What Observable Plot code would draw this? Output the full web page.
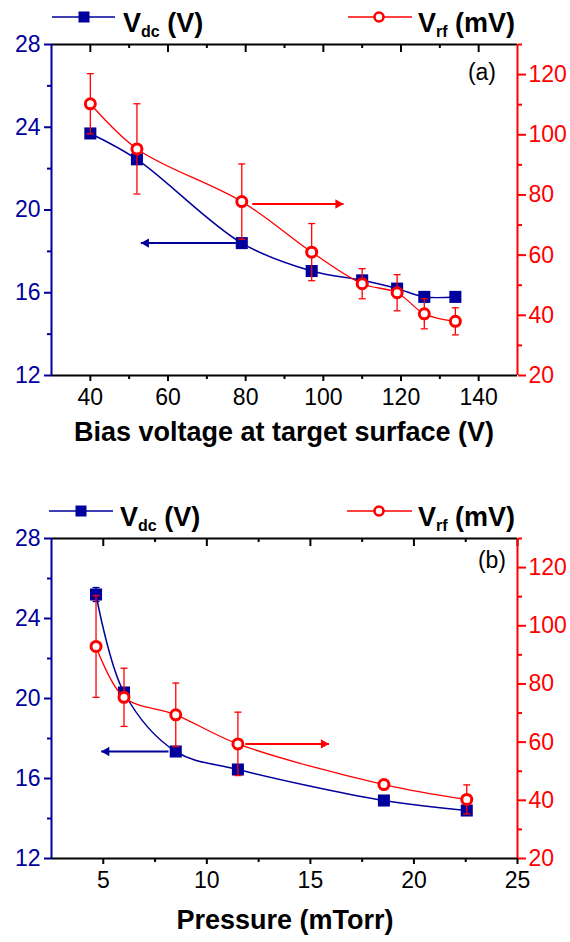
<!DOCTYPE html>
<html>
<head>
<meta charset="utf-8">
<script src="https://cdn.jsdelivr.net/npm/d3@7"></script>
<script src="https://cdn.jsdelivr.net/npm/@observablehq/plot@0.6"></script>
<style>
  html, body { margin: 0; padding: 0; background: #fff; }
  #page { position: relative; width: 570px; height: 942px; overflow: hidden;
          font-family: "Liberation Sans", Arial, sans-serif; }
  #page > svg { position: absolute; left: 0; }
</style>
</head>
<body>
<div id="page"></div>
<script>
const BLUE = "#00009c";
const RED = "#ff0000";

// (a) Vdc and Vrf versus bias voltage at the target surface
const biasVoltage = [40, 52, 79, 97, 110, 119, 126, 134];
const biasVdc = [23.7, 22.45, 18.4, 17.05, 16.6, 16.2, 15.8, 15.8];
const biasVrf = [110.3, 95.3, 77.8, 61.0, 50.5, 47.5, 40.5, 38.0];
const biasVrfErr = [10, 15, 12.5, 9.5, 5, 6, 5, 4.5];

// (b) Vdc and Vrf versus pressure
const pressure = [4.65, 6.0, 8.5, 11.5, 18.55, 22.55];
const pressVdc = [25.2, 20.3, 17.35, 16.45, 14.9, 14.4];
const pressVdcErr = [0.35, 0, 0, 0, 0, 0];
const pressVrf = [92.9, 75.4, 69.4, 59.4, 45.4, 40.3];
const pressVrfErr = [17.5, 10, 10.9, 10.9, 0, 5];

// axis ticks
const biasTicks = [40, 60, 80, 100, 120, 140];
const biasMinor = [50, 70, 90, 110, 130];
const pressTicks = [5, 10, 15, 20, 25];
const pressMinor = [7.5, 12.5, 17.5, 22.5];
const vdcTicks = [12, 16, 20, 24, 28];
const vdcMinor = [14, 18, 22, 26];
const vrfTicks = [20, 40, 60, 80, 100, 120];
const vrfMinor = [30, 50, 70, 90, 110, 130];

// arrows pointing each curve to its axis
const biasArrowDc = [{x1: 77.5, x2: 53, y: 18.4}];
const biasArrowRf = [{x1: 81.7, x2: 105.2, y: 77}];
const pressArrowDc = [{x1: 8.15, x2: 4.9, y: 17.35}];
const pressArrowRf = [{x1: 11.86, x2: 15.9, y: 59.4}];

const page = document.getElementById("page");

// horizontal error-bar cap
const capSymbol = {
  draw(ctx, size) {
    const r = Math.sqrt(size / Math.PI);
    ctx.moveTo(-r, 0);
    ctx.lineTo(r, 0);
  }
};

function panel({top, height, mTop, mBottom, xDomain, xs, dc, dcErr, rf, rfErr,
                xMajor, xMinor, arrowDc, arrowRf}) {
  const plotH = height - mTop - mBottom;
  const dcRows = xs.map((x, i) => ({x, v: dc[i], e: dcErr ? dcErr[i] : 0}));
  const rfRows = xs.map((x, i) => ({x, v: rf[i], e: rfErr[i]}));
  const dcErrRows = dcRows.filter(d => d.e > 0);
  const rfErrRows = rfRows.filter(d => d.e > 0);
  const common = {
    width: 570, height,
    marginTop: mTop, marginBottom: mBottom, marginLeft: 51, marginRight: 53,
    style: {background: "transparent", overflow: "visible",
            fontFamily: "Liberation Sans, Arial, sans-serif"}
  };

  // Vdc layer: frame, bottom/top/left axes, blue series
  const base = Plot.plot({
    ...common,
    x: {domain: xDomain},
    y: {domain: [12, 28]},
    marks: [
      Plot.ruleY([12, 28], {stroke: "#000", strokeWidth: 2}),
      Plot.ruleX([xDomain[0]], {stroke: BLUE, strokeWidth: 2}),
      Plot.tickX(xMajor, {x: d => d, stroke: "#000", strokeWidth: 2, insetBottom: plotH - 8}),
      Plot.tickX(xMinor, {x: d => d, stroke: "#000", strokeWidth: 2, insetBottom: plotH - 4}),
      Plot.axisX(xMajor, {tickSize: 6, tickPadding: 7, fontSize: 23, strokeWidth: 2, color: "#000", label: null}),
      Plot.axisX(xMinor, {tickSize: 4, tickFormat: () => "", strokeWidth: 2, color: "#000", label: null}),
      Plot.axisY(vdcTicks, {tickSize: 7, tickPadding: 4, fontSize: 23, strokeWidth: 2, color: BLUE, label: null}),
      Plot.axisY(vdcMinor, {tickSize: 4, tickFormat: () => "", strokeWidth: 2, color: BLUE, label: null}),
      Plot.line(dcRows, {x: "x", y: "v", curve: "catmull-rom", stroke: BLUE, strokeWidth: 1.5}),
      Plot.ruleX(dcErrRows, {x: "x", y1: d => d.v - d.e, y2: d => d.v + d.e, stroke: BLUE, strokeWidth: 1.3}),
      Plot.dot(dcErrRows, {x: "x", y: d => d.v + d.e, symbol: capSymbol, r: 3.5, fill: "none", stroke: BLUE, strokeWidth: 1.3}),
      Plot.dot(dcErrRows, {x: "x", y: d => d.v - d.e, symbol: capSymbol, r: 3.5, fill: "none", stroke: BLUE, strokeWidth: 1.3}),
      Plot.dot(dcRows, {x: "x", y: "v", symbol: "square", r: 6.8, fill: BLUE, stroke: "none"}),
      Plot.link(arrowDc, {x1: "x1", x2: "x2", y1: "y", y2: "y", stroke: BLUE, strokeWidth: 2}),
      Plot.dot(arrowDc, {x: "x2", y: "y", symbol: "triangle", r: 3.5, rotate: -90, dx: 5.4, fill: BLUE, stroke: "none"})
    ]
  });

  // Vrf layer: right axis and red series, drawn over the Vdc layer
  const over = Plot.plot({
    ...common,
    x: {domain: xDomain, axis: null},
    y: {domain: [20, 130]},
    marks: [
      Plot.ruleX([xDomain[1]], {stroke: RED, strokeWidth: 2}),
      Plot.axisY(vrfTicks, {anchor: "right", tickSize: 8, tickPadding: 3, fontSize: 23, strokeWidth: 2, color: RED, label: null}),
      Plot.axisY(vrfMinor, {anchor: "right", tickSize: 4, tickFormat: () => "", strokeWidth: 2, color: RED, label: null}),
      Plot.line(rfRows, {x: "x", y: "v", curve: "catmull-rom", stroke: RED, strokeWidth: 1.3}),
      Plot.ruleX(rfErrRows, {x: "x", y1: d => d.v - d.e, y2: d => d.v + d.e, stroke: RED, strokeWidth: 1.3}),
      Plot.dot(rfErrRows, {x: "x", y: d => d.v + d.e, symbol: capSymbol, r: 3.5, fill: "none", stroke: RED, strokeWidth: 1.3}),
      Plot.dot(rfErrRows, {x: "x", y: d => d.v - d.e, symbol: capSymbol, r: 3.5, fill: "none", stroke: RED, strokeWidth: 1.3}),
      Plot.dot(rfRows, {x: "x", y: "v", r: 5, fill: "white", stroke: RED, strokeWidth: 3}),
      Plot.link(arrowRf, {x1: "x1", x2: "x2", y1: "y", y2: "y", stroke: RED, strokeWidth: 2}),
      Plot.dot(arrowRf, {x: "x2", y: "y", symbol: "triangle", r: 3.5, rotate: 90, dx: -5.4, fill: RED, stroke: "none"})
    ]
  });

  for (const svg of [base, over]) {
    svg.style.top = top + "px";
    page.appendChild(svg);
  }
}

panel({top: 0, height: 470, mTop: 44, mBottom: 95, xDomain: [30, 150],
       xs: biasVoltage, dc: biasVdc, dcErr: null, rf: biasVrf, rfErr: biasVrfErr,
       xMajor: biasTicks, xMinor: biasMinor, arrowDc: biasArrowDc, arrowRf: biasArrowRf});

panel({top: 470, height: 472, mTop: 68, mBottom: 84, xDomain: [2.5, 25],
       xs: pressure, dc: pressVdc, dcErr: pressVdcErr, rf: pressVrf, rfErr: pressVrfErr,
       xMajor: pressTicks, xMinor: pressMinor, arrowDc: pressArrowDc, arrowRf: pressArrowRf});

// legends, panel tags and axis titles
const NS = "http://www.w3.org/2000/svg";
const notes = document.createElementNS(NS, "svg");
notes.setAttribute("width", 570);
notes.setAttribute("height", 942);
notes.style.top = "0px";
notes.style.fontFamily = "Liberation Sans, Arial, sans-serif";
page.appendChild(notes);

function el(tag, attrs, parent = notes) {
  const e = document.createElementNS(NS, tag);
  for (const [k, v] of Object.entries(attrs)) e.setAttribute(k, v);
  parent.appendChild(e);
  return e;
}

function legendText(x, y, main, sub, tail) {
  const t = el("text", {x, y, "font-size": 27, "font-weight": "bold", fill: "#000"});
  t.appendChild(document.createTextNode(main));
  const s = el("tspan", {"font-size": 16, dy: 5}, t);
  s.textContent = sub;
  const r = el("tspan", {"font-size": 27, dy: -5}, t);
  r.textContent = "\u00a0" + tail;
}

function legends(lineY, dcX, rfX) {
  el("line", {x1: dcX[0], x2: dcX[1], y1: lineY, y2: lineY, stroke: BLUE, "stroke-width": 1.3});
  el("rect", {x: dcX[2] - 5.5, y: lineY - 5.5, width: 11, height: 11, fill: BLUE});
  legendText(dcX[3], lineY + 15, "V", "dc", "(V)");
  el("line", {x1: rfX[0], x2: rfX[1], y1: lineY, y2: lineY, stroke: RED, "stroke-width": 1.3});
  el("circle", {cx: rfX[2], cy: lineY, r: 4.5, fill: "#fff", stroke: RED, "stroke-width": 2.6});
  legendText(rfX[3], lineY + 15, "V", "rf", "(mV)");
}

legends(17, [52, 115, 84, 123], [348, 412, 379, 418]);
legends(511, [49, 113, 81, 120], [347, 412, 379, 418]);

el("text", {x: 496, y: 80, "font-size": 23, "text-anchor": "end", fill: "#000"}).textContent = "(a)";
el("text", {x: 506, y: 568, "font-size": 23, "text-anchor": "end", fill: "#000"}).textContent = "(b)";

el("text", {x: 284, y: 441, "font-size": 27, "font-weight": "bold", "text-anchor": "middle", fill: "#000"})
  .textContent = "Bias voltage at target surface (V)";
el("text", {x: 285, y: 929, "font-size": 27, "font-weight": "bold", "text-anchor": "middle", fill: "#000"})
  .textContent = "Pressure (mTorr)";
</script>
</body>
</html>
